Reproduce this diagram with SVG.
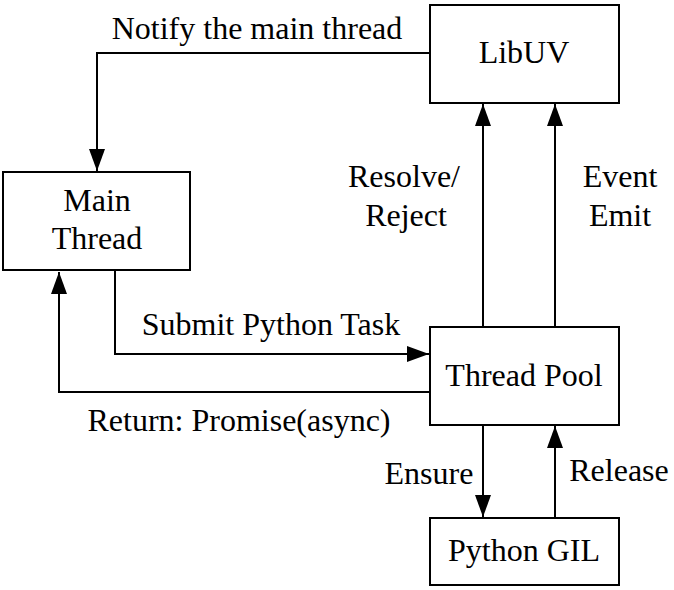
<svg xmlns="http://www.w3.org/2000/svg" width="674" height="590" viewBox="0 0 674 590">
<style>
.box{fill:#fff;stroke:#000;stroke-width:2}
.ln{fill:none;stroke:#000;stroke-width:2}
text{font-family:"Liberation Serif","Times New Roman",serif;font-size:32px;fill:#000;text-anchor:middle}
</style>
<defs>
<marker id="ah" markerWidth="22" markerHeight="16" refX="22" refY="8" orient="auto" markerUnits="userSpaceOnUse">
<path d="M0,0 L22,8 L0,16 Z" fill="#000"/>
</marker>
</defs>
<rect width="674" height="590" fill="#fff"/>
<g id="connectors">
<path class="ln" d="M430,53 H97 V171" marker-end="url(#ah)"/>
<path class="ln" d="M115,271 V354 H429" marker-end="url(#ah)"/>
<path class="ln" d="M430,392 H59 V272" marker-end="url(#ah)"/>
<path class="ln" d="M483,326 V104" marker-end="url(#ah)"/>
<path class="ln" d="M555,326 V104" marker-end="url(#ah)"/>
<path class="ln" d="M483,425 V517" marker-end="url(#ah)"/>
<path class="ln" d="M555,517 V426" marker-end="url(#ah)"/>
<text x="257" y="39">Notify the main thread</text>
<text x="271" y="335">Submit Python Task</text>
<text x="239" y="431">Return: Promise(async)</text>
<text x="404" y="187">Resolve/</text>
<text x="406" y="226">Reject</text>
<text x="620" y="187">Event</text>
<text x="620" y="226">Emit</text>
<text x="429" y="484">Ensure</text>
<text x="619" y="481">Release</text>
</g>
<g id="libuv"><rect class="box" x="430" y="5" width="189" height="98"/><text x="524" y="63">LibUV</text></g>
<g id="main-thread"><rect class="box" x="3" y="172" width="187" height="98"/><text x="97" y="211">Main</text><text x="97" y="249">Thread</text></g>
<g id="thread-pool"><rect class="box" x="430" y="327" width="189" height="98"/><text x="524" y="386">Thread Pool</text></g>
<g id="python-gil"><rect class="box" x="430" y="518" width="189" height="67"/><text x="524" y="561">Python GIL</text></g>
</svg>
